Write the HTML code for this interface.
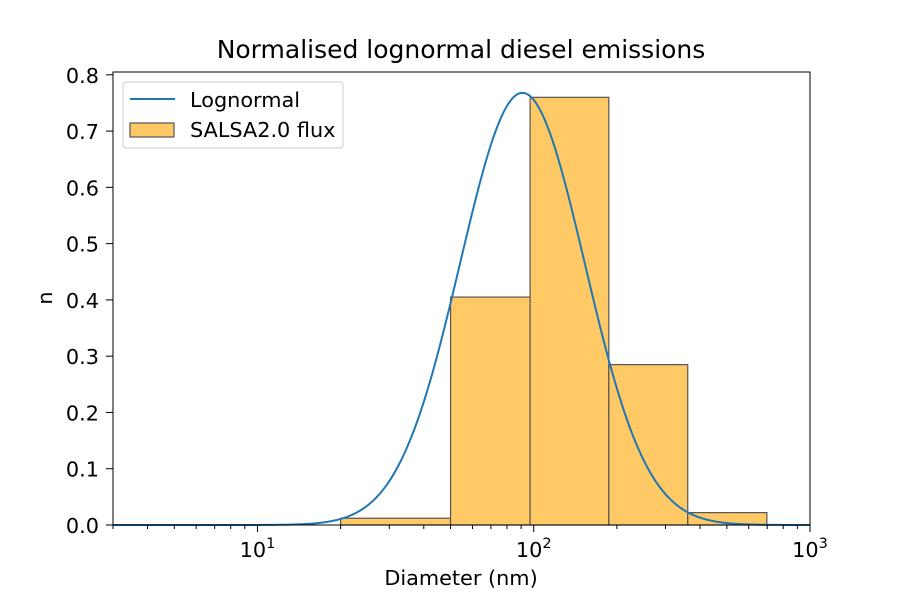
<!DOCTYPE html>
<html><head><meta charset="utf-8"><style>
body{margin:0;background:#fff;font-family:"Liberation Sans","DejaVu Sans",sans-serif}
svg text{font-family:"DejaVu Sans","Liberation Sans",sans-serif;fill:#000}
</style></head><body>
<svg id="chart" width="900" height="600" viewBox="0 0 900 600" xmlns="http://www.w3.org/2000/svg">
<rect width="900" height="600" fill="#fff"/>
<text x="461" y="58" style="font-size:25px" text-anchor="middle">Normalised lognormal diesel emissions</text>
<g id="bars"></g><g id="curve"></g><g id="axes"></g>
<text x="461" y="585" style="font-size:20.8px" text-anchor="middle">Diameter (nm)</text>
<text x="52" y="298" style="font-size:20.8px" text-anchor="middle" transform="rotate(-90 52 298)">n</text>
<g>
<rect x="123" y="82" width="220" height="66" fill="#fff" stroke="#ccc" rx="3"/>
<line x1="130" y1="99" x2="175" y2="99" stroke="#1f77b4" stroke-width="2"/>
<text x="190" y="107" style="font-size:20.8px">Lognormal</text>
<rect x="130" y="123" width="44" height="14" fill="#ffc966" stroke="#555" stroke-width="1.2"/>
<text x="190" y="137" style="font-size:20.8px">SALSA2.0 flux</text>
</g>
</svg>
<script>
const binEdges=[20,50,97,187,361,698];
const binValues=[0.012,0.405,0.76,0.285,0.022];
const lognormalMedian=[91];
const lognormalSigma=[1.68];
const lognormalPeak=[0.768];
const yTicks=[0,0.1,0.2,0.3,0.4,0.5,0.6,0.7,0.8];
const xMajorTicks=[10,100,1000];
const xMajorLabels=["1","2","3"];
const L=113,R=810,T=72,B=525,XMIN=3,XMAX=1000,YMAX=0.805;
const NS="http://www.w3.org/2000/svg";
const xs=d=>L+(Math.log10(d)-Math.log10(XMIN))/(Math.log10(XMAX)-Math.log10(XMIN))*(R-L);
const ys=v=>B-v/YMAX*(B-T);
function mk(tag,attrs,parent){const e=document.createElementNS(NS,tag);for(const k in attrs)e.setAttribute(k,attrs[k]);parent.appendChild(e);return e;}
const bars=document.getElementById('bars');
binValues.forEach((v,i)=>{
 const r=mk('rect',{x:xs(binEdges[i]),y:ys(v),width:xs(binEdges[i+1])-xs(binEdges[i]),height:B-ys(v),fill:'#ffc966',stroke:'#555','stroke-width':1.2},bars);
 
 
});
const pts=[];
for(let i=0;i<=400;i++){const ld=Math.log10(XMIN)+i/400*(Math.log10(XMAX)-Math.log10(XMIN));const d=Math.pow(10,ld);
 const z=Math.log(d/lognormalMedian[0])/Math.log(lognormalSigma[0]);
 pts.push(xs(d).toFixed(2)+','+ys(lognormalPeak[0]*Math.exp(-z*z/2)).toFixed(2));}
const pl=mk('polyline',{points:pts.join(' '),fill:'none',stroke:'#1f77b4','stroke-width':2},document.getElementById('curve'));


const ax=document.getElementById('axes');
const fr=mk('rect',{x:L,y:T,width:R-L,height:B-T,fill:'none',stroke:'#000','stroke-width':1},ax);


yTicks.forEach(v=>{mk('line',{x1:L-7,x2:L,y1:ys(v),y2:ys(v),stroke:'#000'},ax);
 const t=mk('text',{x:L-14,y:ys(v)+8,style:'font-size:20.8px','text-anchor':'end'},ax);t.textContent=v.toFixed(1);
 
 });
for(let dec=0;dec<3;dec++)for(let m=1;m<10;m++){const d=m*Math.pow(10,dec);if(d<XMIN||d>XMAX)continue;
 mk('line',{x1:xs(d),x2:xs(d),y1:B,y2:B+(m===1?7:4),stroke:'#000'},ax);}
mk('line',{x1:xs(1000),x2:xs(1000),y1:B,y2:B+7,stroke:'#000'},ax);
xMajorTicks.forEach((d,i)=>{const t=mk('text',{x:xs(d),y:B+32,style:'font-size:20.8px','text-anchor':'middle'},ax);
 t.textContent='10';
 
 const s=mk('tspan',{dy:-9,style:'font-size:14.5px'},t);s.textContent=xMajorLabels[i];});
</script>
</body></html>
